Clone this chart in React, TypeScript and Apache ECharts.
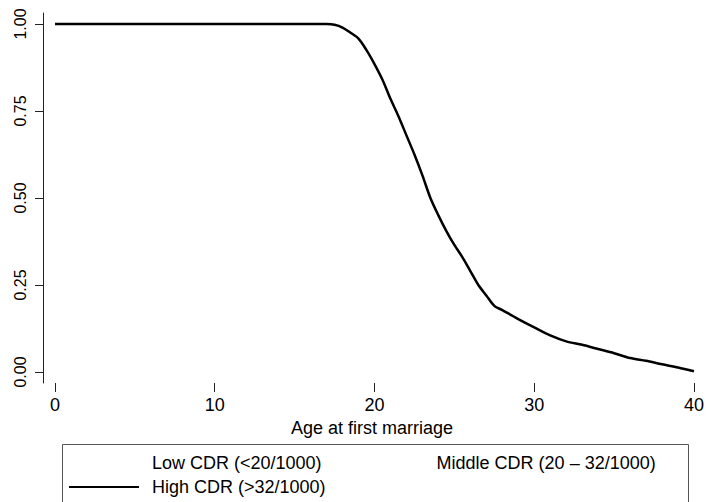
import React, { useEffect, useRef } from "react";
import * as echarts from "echarts";

const ages: number[] = [0, 17, 17.5, 18, 18.5, 19, 19.5, 20, 20.5, 21, 21.5, 22, 22.5, 23, 23.5, 24, 24.5, 25, 25.5, 26, 26.5, 27, 27.5, 28, 28.5, 29, 30, 31, 32, 33, 34, 35, 36, 37, 38, 39, 40];
const highCDR: number[] = [1.0, 1.0, 0.998, 0.99, 0.975, 0.958, 0.925, 0.885, 0.84, 0.785, 0.735, 0.68, 0.625, 0.565, 0.5, 0.45, 0.405, 0.365, 0.33, 0.29, 0.25, 0.22, 0.19, 0.178, 0.165, 0.152, 0.128, 0.105, 0.088, 0.078, 0.066, 0.054, 0.04, 0.032, 0.022, 0.013, 0.002];
const lowCDR: number[][] = [];
const middleCDR: number[][] = [];
const xTicks: number[] = [0, 10, 20, 30, 40];
const yTicks: number[] = [0, 0.25, 0.5, 0.75, 1];
const seriesNames: string[] = ["Low CDR (<20/1000)", "Middle CDR (20 \u2013 32/1000)", "High CDR (>32/1000)"];
const xTitle = "Age at first marriage";

const FONT = "'Liberation Sans', Arial, Helvetica, sans-serif";
const LINE_ICON = "path://M0,0 L70,0 L70,2 L0,2 Z";

export default function App() {
  const ref = useRef<HTMLDivElement>(null);
  useEffect(() => {
    if (!ref.current) return;
    const chart = echarts.init(ref.current, undefined, { renderer: "svg" });
    const highData = ages.map((a, i) => [a, highCDR[i]]);
    const legendText = { fontFamily: FONT, fontSize: 18, color: "#000", padding: [0, 0, 0, 8] };
    chart.setOption({
      animation: false,
      backgroundColor: "#ffffff",
      grid: { left: 43, right: 5, top: 13, bottom: 119, containLabel: false },
      xAxis: {
        type: "value",
        min: -0.75,
        max: 40.4375,
        name: xTitle,
        nameLocation: "middle",
        nameGap: 31,
        nameTextStyle: { fontFamily: FONT, fontSize: 18, color: "#000" },
        axisLine: { show: false, onZero: false },
        axisTick: { show: true, length: 9, customValues: xTicks, lineStyle: { color: "#222", width: 1 } },
        axisLabel: { customValues: xTicks, margin: 13, fontFamily: FONT, fontSize: 18, color: "#000" },
        splitLine: { show: false },
      },
      yAxis: {
        type: "value",
        min: -0.0317,
        max: 1.0317,
        axisLine: { show: true, onZero: false, lineStyle: { color: "#222", width: 1 } },
        axisTick: { show: true, length: 8, customValues: yTicks, lineStyle: { color: "#222", width: 1 } },
        axisLabel: {
          customValues: yTicks,
          rotate: 90,
          margin: 15,
          fontFamily: FONT,
          fontSize: 16,
          color: "#000",
          formatter: (v: number) => v.toFixed(2),
        },
        splitLine: { show: false },
      },
      legend: [
        {
          data: [seriesNames[0], seriesNames[1]],
          left: 69,
          top: 454,
          padding: 0,
          icon: LINE_ICON,
          itemWidth: 70,
          itemHeight: 2,
          itemGap: 32,
          textStyle: legendText,
        },
        {
          data: [seriesNames[2]],
          left: 69,
          top: 478,
          padding: 0,
          icon: LINE_ICON,
          itemWidth: 70,
          itemHeight: 2,
          textStyle: legendText,
        },
      ],
      graphic: [
        {
          type: "rect",
          shape: { x: 62.5, y: 444.5, width: 626, height: 80 },
          style: { fill: "none", stroke: "#555", lineWidth: 1 },
          z: -1,
        },
      ],
      series: [
        {
          name: seriesNames[0],
          type: "line",
          data: lowCDR,
          symbol: "none",
          color: "#ffffff",
          lineStyle: { color: "#ffffff", width: 2 },
        },
        {
          name: seriesNames[1],
          type: "line",
          data: middleCDR,
          symbol: "none",
          color: "#ffffff",
          lineStyle: { color: "#ffffff", width: 2 },
        },
        {
          name: seriesNames[2],
          type: "line",
          data: highData,
          symbol: "none",
          smooth: 0.3,
          color: "#000000",
          lineStyle: { color: "#000000", width: 2.5 },
        },
      ],
    });
    return () => chart.dispose();
  }, []);
  return (
    <div
      ref={ref}
      style={{ position: "fixed", left: 0, top: 0, width: 707, height: 502, background: "#fff" }}
    />
  );
}
